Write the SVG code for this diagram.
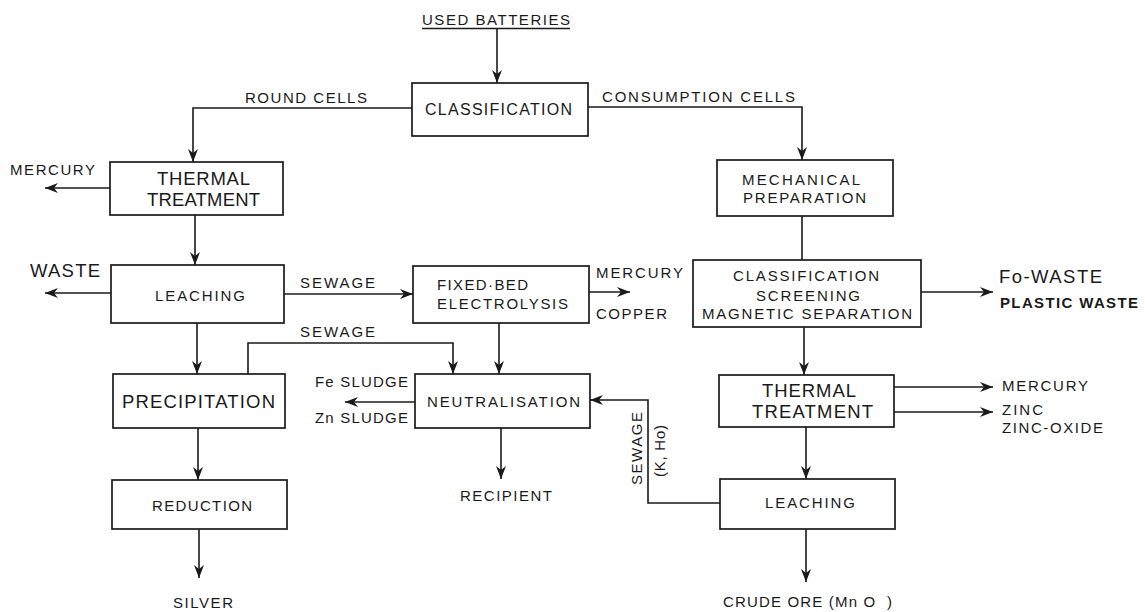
<svg xmlns="http://www.w3.org/2000/svg" width="1145" height="612" viewBox="0 0 1145 612">
<style>
.box{fill:#fff;stroke:#1a1a1a;stroke-width:1.7}
.ln{fill:none;stroke:#1a1a1a;stroke-width:1.6}
.ar{marker-end:url(#ah)}
text{font-family:"Liberation Sans",Arial,sans-serif;fill:#1a1a1a;font-size:15px}
.big{font-size:18.5px}
.mid{font-size:16px}
</style>
<defs>
<marker id="ah" viewBox="0 0 13 10" refX="13" refY="5" markerWidth="13" markerHeight="10" markerUnits="userSpaceOnUse" orient="auto">
<path d="M0,0 L13,5 L0,10 L4,5 z" fill="#1a1a1a"/>
</marker>
</defs>
<rect width="1145" height="612" fill="#fff"/>
<g id="connectors">
<line class="ln" x1="422" y1="28.5" x2="570" y2="28.5"/>
<path class="ln ar" d="M497,29 V83"/>
<path class="ln ar" d="M412,108 H193 V162"/>
<path class="ln ar" d="M588,107 H802 V160"/>
<path class="ln" d="M802,216 V260"/>
<path class="ln ar" d="M921,292 H993"/>
<path class="ln ar" d="M804,327 V375"/>
<path class="ln ar" d="M894,387 H993"/>
<path class="ln ar" d="M894,412 H993"/>
<path class="ln ar" d="M806,427 V479"/>
<path class="ln ar" d="M806,529 V582"/>
<path class="ln ar" d="M720,503 H648 V400 H590"/>
<path class="ln ar" d="M110,188 H45"/>
<path class="ln ar" d="M195,215 V265"/>
<path class="ln ar" d="M111,293 H45"/>
<path class="ln ar" d="M284,294 H413"/>
<path class="ln ar" d="M589,292 H630"/>
<path class="ln ar" d="M499,323 V374"/>
<path class="ln ar" d="M197,323 V374"/>
<path class="ln ar" d="M248,374 V343 H453 V374"/>
<path class="ln ar" d="M415,402 H345"/>
<path class="ln ar" d="M198,428 V480"/>
<path class="ln ar" d="M199,529 V578"/>
<path class="ln ar" d="M501,428 V479"/>
</g>
<g id="labels">
<text x="422" y="25" textLength="148">USED BATTERIES</text>
<text x="245" y="103" textLength="122">ROUND CELLS</text>
<text x="602" y="102" textLength="193">CONSUMPTION CELLS</text>
<text x="10" y="175" textLength="85">MERCURY</text>
<text class="big" x="30" y="277" textLength="70">WASTE</text>
<text x="300" y="288" textLength="75">SEWAGE</text>
<text x="300" y="337" textLength="75">SEWAGE</text>
<text x="596" y="278" textLength="87">MERCURY</text>
<text x="596" y="319" textLength="71">COPPER</text>
<text class="big" x="999" y="283" textLength="103">Fo-WASTE</text>
<text x="1000" y="308" textLength="138" font-weight="bold">PLASTIC WASTE</text>
<text x="315" y="387" textLength="93">Fe SLUDGE</text>
<text x="315" y="423" textLength="93">Zn SLUDGE</text>
<text x="1002" y="391" textLength="86">MERCURY</text>
<text x="1002" y="415" textLength="41">ZINC</text>
<text x="1002" y="433" textLength="101">ZINC-OXIDE</text>
<text x="460" y="501" textLength="92">RECIPIENT</text>
<text x="173" y="608" textLength="60">SILVER</text>
<text x="723" y="607" textLength="169" xml:space="preserve">CRUDE ORE (Mn O  )</text>
<text transform="translate(642,485) rotate(-90)" x="0" y="0" textLength="73">SEWAGE</text>
<text transform="translate(665,477) rotate(-90)" x="0" y="0" textLength="52">(K, Ho)</text>
</g>
<g id="n-classification">
<rect class="box" x="412" y="83" width="176" height="53"/>
<text class="mid" x="425" y="115" textLength="147">CLASSIFICATION</text>
</g>
<g id="n-thermal-left">
<rect class="box" x="110" y="162" width="173" height="53"/>
<text class="big" x="157" y="185" textLength="93">THERMAL</text>
<text class="big" x="147" y="206" textLength="113">TREATMENT</text>
</g>
<g id="n-mechanical">
<rect class="box" x="717" y="160" width="176" height="56"/>
<text x="742" y="185" textLength="118">MECHANICAL</text>
<text x="743" y="203" textLength="123">PREPARATION</text>
</g>
<g id="n-leaching-left">
<rect class="box" x="111" y="265" width="173" height="58"/>
<text x="155" y="301" textLength="90">LEACHING</text>
</g>
<g id="n-fixedbed">
<rect class="box" x="413" y="266" width="176" height="57"/>
<text x="437" y="290" textLength="91">FIXED·BED</text>
<text x="437" y="309" textLength="131">ELECTROLYSIS</text>
</g>
<g id="n-csms">
<rect class="box" x="693" y="260" width="228" height="67"/>
<text x="733" y="281" textLength="146">CLASSIFICATION</text>
<text x="756" y="301" textLength="104">SCREENING</text>
<text x="702" y="319" textLength="210">MAGNETIC SEPARATION</text>
</g>
<g id="n-precipitation">
<rect class="box" x="113" y="374" width="172" height="54"/>
<text class="big" x="122" y="408" textLength="153">PRECIPITATION</text>
</g>
<g id="n-neutralisation">
<rect class="box" x="415" y="374" width="175" height="54"/>
<text x="427" y="407" textLength="153">NEUTRALISATION</text>
</g>
<g id="n-thermal-right">
<rect class="box" x="719" y="375" width="175" height="52"/>
<text class="big" x="762" y="397" textLength="94">THERMAL</text>
<text class="big" x="752" y="418" textLength="121">TREATMENT</text>
</g>
<g id="n-reduction">
<rect class="box" x="112" y="480" width="175" height="49"/>
<text x="152" y="511" textLength="100">REDUCTION</text>
</g>
<g id="n-leaching-right">
<rect class="box" x="720" y="479" width="175" height="50"/>
<text x="765" y="508" textLength="90">LEACHING</text>
</g>
</svg>
